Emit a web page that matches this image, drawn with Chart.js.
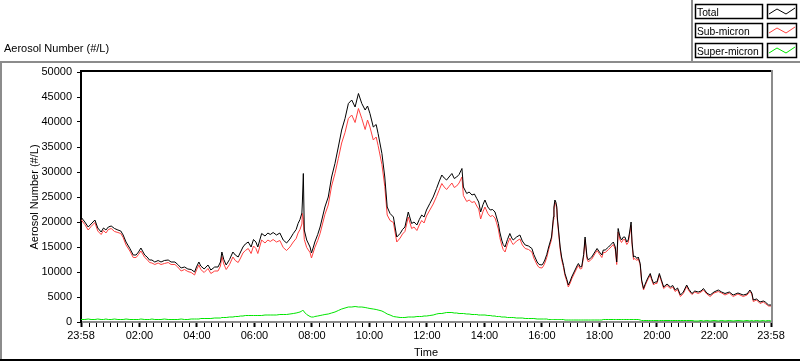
<!DOCTYPE html>
<html>
<head>
<meta charset="utf-8">
<script src="https://cdn.jsdelivr.net/npm/chart.js@4.4.0/dist/chart.umd.min.js"></script>
<style>
  html, body { margin: 0; padding: 0; background: #fff; }
  #wrap { width: 800px; height: 361px; }
</style>
</head>
<body>
<div id="wrap"><canvas id="chart" width="800" height="361"></canvas></div>
<script>
// minutes since 23:58 (start of the record)
const times = [0,8,15,21,29,35,42,47,52,57,63,70,77,83,88,94,102,109,115,120,125,133,138,143,148,154,161,167,174,182,188,196,202,209,216,223,230,237,241,246,250,257,265,271,279,286,291,294,298,303,310,317,322,328,333,338,343,349,355,360,365,369,377,384,390,395,401,408,415,422,429,436,443,449,453,457,461,462,464,466,471,478,481,485,488,494,499,504,509,516,523,530,537,544,551,558,565,572,579,586,593,598,603,610,616,620,628,634,639,645,652,659,666,671,676,683,690,695,701,706,711,716,721,728,735,742,747,753,758,763,768,774,779,784,789,795,798,805,810,816,821,826,830,834,839,843,849,854,859,864,867,871,874,878,881,885,890,895,899,902,909,916,921,927,934,941,945,952,956,962,965,968,972,976,979,982,984,986,987,989,991,993,994,996,998,1000,1003,1007,1010,1014,1017,1021,1024,1028,1031,1035,1038,1042,1045,1049,1052,1056,1059,1063,1066,1071,1077,1082,1087,1090,1094,1101,1106,1111,1115,1118,1121,1125,1128,1132,1135,1139,1142,1145,1148,1150,1153,1156,1160,1163,1167,1170,1174,1177,1181,1184,1188,1191,1195,1198,1202,1205,1207,1211,1216,1223,1230,1235,1240,1245,1251,1257,1264,1269,1275,1281,1288,1294,1299,1306,1313,1321,1330,1337,1344,1353,1361,1371,1382,1390,1396,1400,1403,1410,1417,1424,1428,1435,1440];

const total = [21000,20000,19000,19600,20400,18800,18000,18800,18400,19000,19200,18700,18400,18200,17400,16000,14700,13400,13400,14000,14800,13400,13000,12400,12400,12000,12300,12000,12300,12400,12000,12000,11500,10800,11000,10600,10500,10000,11000,12000,11200,10600,11400,10400,11000,11000,12000,14000,12500,11400,12500,14000,13400,13000,14000,15000,15600,16000,15000,16500,16000,15000,17700,17200,17800,17500,17900,17400,17800,16400,15800,16600,17700,18500,19700,20500,21800,24000,29700,18400,16400,15000,13800,15000,16000,17500,19000,21000,23000,25000,29000,31700,35000,38400,40700,43700,44400,43000,45700,43700,42400,43200,41700,39000,39500,37700,33700,29000,23000,21700,21000,17000,17700,18500,19000,22000,19700,20000,19400,20500,21400,21000,22400,23700,25000,26700,28000,29400,28800,28400,29000,29700,28700,29000,29500,30700,27000,25700,26000,25400,25600,24700,24000,22000,23500,24400,23000,22400,22500,22000,21000,19700,18000,16400,15500,15000,16500,17700,16800,16400,17000,17400,16200,15400,15200,14700,13500,12000,11500,11400,11800,12400,13500,15000,16000,17000,19000,21000,23000,24400,24000,23000,21000,19000,17000,15000,13000,11300,9700,8500,7400,8200,9000,9800,10400,11200,11700,11000,11100,13500,17000,13000,12400,12800,13000,13800,14700,14000,13400,14400,14400,15000,15500,16000,15000,12000,18700,17000,16400,17000,17000,16000,16400,18000,20000,16000,13000,13200,12700,13000,11700,8400,6700,7500,8400,9000,9700,8700,7700,8000,8000,9000,9700,8500,7000,7600,7000,7300,6400,6800,5400,6000,7400,6500,5700,6200,6000,6200,6700,5800,5400,6000,6400,6000,5700,6000,5400,5800,5400,5600,6400,5800,4400,4600,4000,4200,4000,3400,3400];

const subMicron = [20500,19500,18400,19100,19900,18200,17500,18300,17800,18500,18700,18100,17900,17700,16900,15400,14200,12900,12900,13500,14200,12900,12500,11900,11800,11500,11800,11500,11700,11900,11500,11500,11000,10200,10500,10100,9900,9400,10400,11400,10500,9900,10700,9700,10200,10200,11200,13100,11600,10500,11500,13000,12300,11900,12800,13800,14300,14700,13700,15200,14700,13700,16400,15800,16400,16100,16500,16000,16300,14900,14300,15000,16000,16700,17800,18500,19600,21700,20500,16500,14900,13900,12800,14000,14900,16300,17700,19600,21500,23400,27200,29700,32700,35800,37900,40700,41400,39900,42700,40700,38500,40400,39000,36400,37000,35300,31500,27100,21400,20300,19900,16000,16800,17600,18100,21000,18700,19000,18300,19400,20300,19800,21200,22400,23600,25100,26300,27700,27000,26500,27100,27800,26900,27200,27800,29000,25300,24100,24400,23900,24100,23200,22600,20600,22100,23000,21700,21100,21300,20800,19900,18600,16900,15400,14500,14000,15600,16800,15900,15500,16200,16600,15400,14700,14500,14000,12800,11400,10900,10800,11200,11800,12900,14500,15500,16500,18500,20500,22500,23900,23500,22500,20500,18500,16500,14500,12500,10900,9300,8100,7000,7800,8600,9400,10000,10800,11300,10600,10700,13100,16500,12600,12000,12400,12600,13400,14300,13600,12900,13900,13900,14500,15000,15500,14500,11500,18000,16400,15900,16500,16500,15500,15900,17500,19300,15500,12500,12700,12300,12700,11400,8100,6400,7200,8100,8700,9400,8400,7400,7700,7700,8700,9400,8200,6700,7300,6700,7000,6100,6500,5100,5700,7100,6200,5500,6000,5700,6000,6400,5600,5100,5800,6100,5800,5400,5800,5100,5600,5100,5400,6100,5600,4100,4400,3700,4000,3700,3200,3200];

const superMicron = [500,500,600,500,500,600,500,500,600,500,500,600,500,500,500,600,500,500,500,500,600,500,500,500,600,500,500,500,600,500,500,500,500,600,500,500,600,600,600,600,700,700,700,700,800,800,800,900,900,900,1000,1000,1100,1100,1200,1200,1300,1300,1300,1300,1300,1300,1300,1400,1400,1400,1400,1400,1500,1500,1500,1600,1700,1800,1900,2000,2200,2300,2300,2000,1500,1100,1000,1000,1100,1200,1300,1400,1500,1600,1800,2000,2300,2600,2800,3000,3000,3100,3000,3000,2900,2800,2700,2600,2500,2400,2200,1900,1600,1400,1100,1000,900,900,900,1000,1000,1000,1100,1100,1100,1200,1200,1300,1400,1600,1700,1700,1800,1900,1900,1900,1800,1800,1700,1700,1700,1600,1600,1500,1500,1500,1400,1400,1400,1400,1300,1300,1200,1200,1100,1100,1100,1000,1000,1000,900,900,900,900,800,800,800,700,700,700,700,600,600,600,600,600,600,500,500,500,500,500,500,500,500,500,500,500,500,500,500,500,400,400,400,400,400,400,400,400,400,400,400,400,400,400,400,400,400,400,400,400,400,500,500,500,500,500,500,500,500,500,500,500,500,500,500,500,500,500,500,500,500,500,400,300,300,300,300,300,300,300,300,300,300,300,300,300,300,300,300,300,300,300,300,300,300,300,300,200,200,300,200,300,200,300,200,300,200,300,200,300,200,300,200,300,200,300,200,300,200,300,200,300,200,200];

const seriesNames = ['Total', 'Sub-micron', 'Super-micron'];
const seriesColors = ['#000000', '#ff4040', '#00e600'];

const yTicks = [0, 5000, 10000, 15000, 20000, 25000, 30000, 35000, 40000, 45000, 50000];
const majorTimes = [0, 122, 242, 362, 482, 602, 722, 842, 962, 1082, 1202, 1322, 1440];
const timeLabels = ['23:58', '02:00', '04:00', '06:00', '08:00', '10:00', '12:00', '14:00', '16:00', '18:00', '20:00', '22:00', '23:58'];

// minor ticks every 15 minutes from 00:00
const xTicks = [0]
for (let m = 17; m < 1440; m += 15) xTicks.push(m)
xTicks.push(1440)

const FONT = 'Liberation Sans, Arial, sans-serif'
Chart.defaults.font.family = FONT
Chart.defaults.font.size = 11
Chart.defaults.color = '#000'

const frame = {
  id: 'frame',
  beforeDraw(chart){
    const ctx = chart.ctx
    ctx.save()
    ctx.fillStyle = '#fff'
    ctx.fillRect(0, 0, chart.width, chart.height)
    ctx.restore()
  },
  afterDraw(chart){
    const ctx = chart.ctx, a = chart.chartArea
    ctx.save()

    // plot frame: dark top, light right
    ctx.fillStyle = '#000'
    ctx.fillRect(a.left - 1, a.top - 2, a.right - a.left + 1, 2)
    ctx.fillStyle = '#8c8c8c'
    ctx.fillRect(a.right, a.top - 2, 2, a.bottom - a.top + 3)

    // panel edges
    ctx.fillStyle = '#8c8c8c'
    ctx.fillRect(0, 61, 800, 2)
    ctx.fillRect(691, 0, 2, 62)
    ctx.fillRect(0, 61, 2, 300)
    ctx.fillStyle = '#000'
    ctx.fillRect(0, 359, 800, 2)

    // titles
    ctx.fillStyle = '#000'
    ctx.font = '11px ' + FONT
    ctx.textBaseline = 'alphabetic'
    ctx.textAlign = 'left'
    ctx.fillText('Aerosol Number (#/L)', 4, 52)
    ctx.textAlign = 'center'
    ctx.fillText('Time', 426, 356)
    ctx.save()
    ctx.translate(38, 197)
    ctx.rotate(-Math.PI / 2)
    ctx.fillText('Aerosol Number (#/L)', 0, 0)
    ctx.restore()

    // legend
    ctx.font = '10.3px ' + FONT
    chart.data.datasets.forEach((ds, i) => {
      const by = Math.round(4 + i * 19.3)
      ctx.strokeStyle = '#000'
      ctx.lineWidth = 1.5
      ctx.strokeRect(695.5, by + 0.5, 67, 14)
      ctx.strokeRect(767.5, by + 0.5, 29, 14)
      ctx.textAlign = 'left'
      ctx.fillStyle = '#000'
      ctx.fillText(ds.label, 697, by + 12)
      ctx.strokeStyle = ds.borderColor
      ctx.lineWidth = 1
      ctx.beginPath()
      ctx.moveTo(769, by + 10)
      ctx.lineTo(777, by + 5)
      ctx.lineTo(786, by + 10)
      ctx.lineTo(795, by + 4)
      ctx.stroke()
    })
    ctx.restore()
  }
}

const datasets = [total, subMicron, superMicron].map((vals, i) => ({
  label: seriesNames[i],
  data: vals.map((v, k) => ({ x: times[k], y: v })),
  borderColor: seriesColors[i],
  borderWidth: 1,
  pointRadius: 0,
  tension: 0,
  fill: false
}))

new Chart(document.getElementById('chart'), {
  type: 'line',
  data: { datasets: datasets },
  options: {
    responsive: false,
    animation: false,
    events: [],
    layout: { padding: { left: 0, right: 29, top: 72, bottom: 0 } },
    plugins: { legend: { display: false }, tooltip: { enabled: false } },
    scales: {
      x: {
        type: 'linear',
        min: 0,
        max: 1440,
        afterBuildTicks: s => { s.ticks = xTicks.map(v => ({ value: v })) },
        afterFit: s => { s.height = 39 },
        border: { display: true, color: '#8c8c8c', width: 2 },
        grid: {
          drawOnChartArea: false,
          tickLength: 5,
          tickColor: '#000',
          tickWidth: c => majorTimes.includes(c.tick && c.tick.value) ? 2 : 1
        },
        ticks: {
          autoSkip: false,
          maxRotation: 0,
          padding: 2,
          color: '#000',
          callback: v => {
            const i = majorTimes.indexOf(v)
            return i >= 0 ? timeLabels[i] : ''
          }
        }
      },
      y: {
        min: 0,
        max: 50000,
        afterBuildTicks: s => { s.ticks = yTicks.map(v => ({ value: v })) },
        afterFit: s => { s.width = 81 },
        border: { display: true, color: '#000', width: 2 },
        grid: { drawOnChartArea: false, tickLength: 4, tickColor: '#000', tickWidth: 1 },
        ticks: { padding: 5, color: '#000', callback: v => String(v) }
      }
    }
  },
  plugins: [frame]
})
</script>
</body>
</html>
